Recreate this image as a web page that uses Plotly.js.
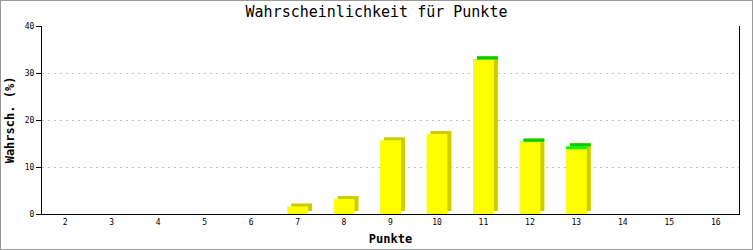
<!DOCTYPE html>
<html>
<head>
<meta charset="utf-8">
<script src="https://cdn.plot.ly/plotly-3.0.1.min.js"></script>
<style>
html,body{margin:0;padding:0;background:#fff;}
#chart{width:753px;height:250px;box-sizing:border-box;border:1px solid #999;}
</style>
</head>
<body>
<div id="chart"></div>
<script>
// Data
const categories = ['2','3','4','5','6','7','8','9','10','11','12','13','14','15','16'];
const yellowValues = [0,0,0,0,0,1.6,3.2,15.7,17.0,32.8,15.3,13.8,0,0,0];
const greenValues  = [0,0,0,0,0,0,0,0,0,0.1,0.1,0.6,0,0,0];
const titleText = 'Wahrscheinlichkeit für Punkte';
const xTitle = 'Punkte';
const yTitle = 'Wahrsch. (%)';
const yTicks = [0,10,20,30,40];

// Style constants for the pseudo-3D look
const barW = 0.45;
const dx = 0.086;   // horizontal depth (category units)
const dy = 0.64;    // vertical depth (value units)

const totals = yellowValues.map((v,i)=>v+greenValues[i]);
const hasBar = totals.map(t=>t>0);

const traces = [
  { // side/back of bars (dark yellow)
    type:'bar', x:categories,
    y: totals.map((t,i)=>hasBar[i]?t:null),
    base: totals.map(()=>dy),
    width: barW, offset: -barW/2 + dx,
    marker:{color:'#cccc00', line:{width:0}}, hoverinfo:'skip'
  },
  { // top face of green-capped bars
    type:'bar', x:categories,
    y: greenValues.map((g,i)=>g>0?dy:null),
    base: totals,
    width: barW, offset: -barW/2 + dx,
    marker:{color:'#00cc00', line:{width:0}}, hoverinfo:'skip'
  },
  { // front yellow
    type:'bar', x:categories,
    y: yellowValues.map(v=>v>0?v:null),
    base: yellowValues.map(()=>0),
    width: barW, offset: -barW/2,
    marker:{color:'#ffff00', line:{width:0}}, hoverinfo:'skip'
  },
  { // front green
    type:'bar', x:categories,
    y: greenValues.map(g=>g>0?g:null),
    base: yellowValues,
    width: barW, offset: -barW/2,
    marker:{color:'#00ff00', line:{width:0}}, hoverinfo:'skip'
  }
];

const mono = 'DejaVu Sans Mono, Liberation Mono, monospace';

const layout = {
  width:751, height:248,
  margin:{l:41, r:13, t:25, b:35},
  paper_bgcolor:'#ffffff', plot_bgcolor:'#ffffff',
  barmode:'overlay', showlegend:false,
  title:{text:titleText, x:0.5, xref:'container', xanchor:'center', y:1, yref:'container', yanchor:'top', pad:{t:5},
         font:{family:mono, size:15, color:'#000'}},
  xaxis:{
    type:'category', categoryorder:'array', categoryarray:categories,
    range:[-0.5, categories.length-0.5],
    showline:true, linecolor:'#000', linewidth:1, mirror:false,
    ticks:'', showgrid:false, zeroline:false,
    tickfont:{family:mono, size:8, color:'#000'},
    title:{text:xTitle, standoff:9, font:{family:mono, size:12, color:'#000', weight:'bold'}},
    fixedrange:true
  },
  yaxis:{
    range:[0,40], tickvals:yTicks, ticktext:yTicks.map(String),
    showline:true, linecolor:'#000', linewidth:1, mirror:true,
    ticks:'outside', ticklen:5, tickcolor:'#000',
    showgrid:true, gridcolor:'#c0c0c0', griddash:'2px,4px', gridwidth:1,
    zeroline:false,
    tickfont:{family:mono, size:8, color:'#000'},
    title:{text:yTitle, standoff:7, font:{family:mono, size:12, color:'#000', weight:'bold'}},
    fixedrange:true
  }
};

Plotly.newPlot('chart', traces, layout, {displayModeBar:false, staticPlot:true});
</script>
</body>
</html>
